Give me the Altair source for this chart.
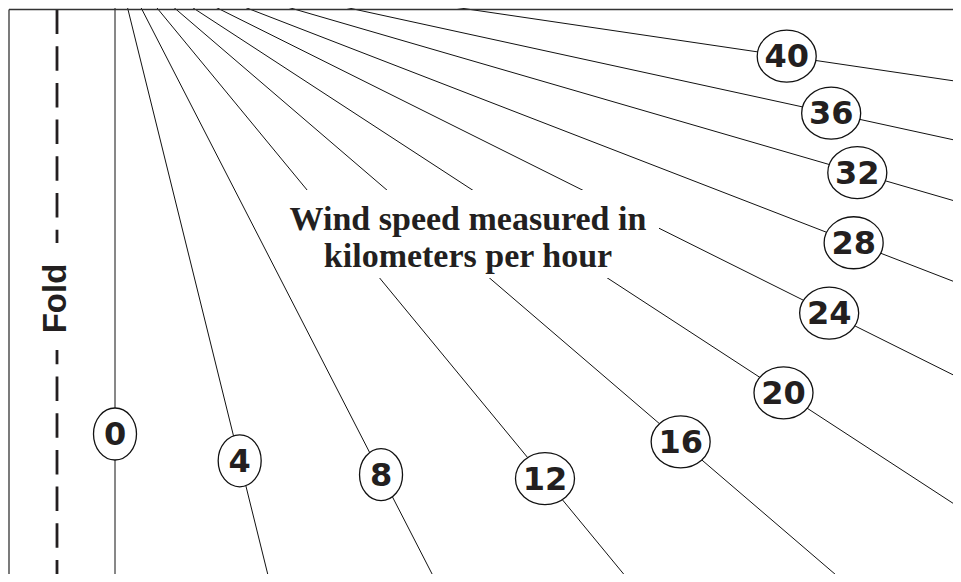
import altair as alt
import pandas as pd
import numpy as np

# ---- data ----
speeds = [0, 4, 8, 12, 16, 20, 24, 28, 32, 36, 40]
angles_deg = [0.0, 13.9, 27.2, 39.5, 49.4, 56.9, 63.5, 68.85, 73.8, 77.7, 81.6]  # from vertical
label_dist = [477, 519, 582, 676, 745, 798, 798, 792, 773, 733, 679]  # along each ray
caption_lines = ["Wind speed measured in", "kilometers per hour"]
fold_label = "Fold"

# ---- layout (page pixel space) ----
hub_x, hub_y = 115, -43
ray_len = 1700
caption_x = 468
caption_baselines = [230, 267]
caption_box = dict(x=285, x2=659, y=190, y2=278)
fold_x = 57
fold_text_x, fold_text_y = 65.7, 298.5
fold_box = dict(x=44, x2=70, y=243, y2=350)
frame_left, frame_top = 9, 9.5

th = np.radians(angles_deg)
rays = pd.DataFrame({
    "speed": speeds,
    "x": [hub_x] * len(speeds),
    "y": [hub_y] * len(speeds),
    "x2": hub_x + ray_len * np.sin(th),
    "y2": hub_y + ray_len * np.cos(th),
})
labels = pd.DataFrame({
    "speed": speeds,
    "label": [str(s) for s in speeds],
    "x": hub_x + np.array(label_dist) * np.sin(th),
    "y": hub_y + np.array(label_dist) * np.cos(th),
})
labels["wide"] = labels["speed"] >= 10

XS = alt.Scale(domain=[8, 953], nice=False, zero=False)
YS = alt.Scale(domain=[8, 574], nice=False, zero=False, reverse=True)


def X(f="x"):
    return alt.X(f"{f}:Q", scale=XS, axis=None)


def Y(f="y"):
    return alt.Y(f"{f}:Q", scale=YS, axis=None)


ink = "#231f20"

ray_layer = alt.Chart(rays).mark_rule(color="#111111", strokeWidth=1, clip=True).encode(
    x=X(), y=Y(), x2="x2:Q", y2="y2:Q"
)

cap_box = alt.Chart(pd.DataFrame([caption_box])).mark_rect(color="white").encode(
    x=X(), x2="x2:Q", y=Y(), y2="y2:Q"
)
cap_text = alt.Chart(pd.DataFrame({
    "t": caption_lines, "x": [caption_x] * 2, "y": caption_baselines
})).mark_text(font="Liberation Serif", fontSize=34, fontWeight="bold",
              align="center", baseline="alphabetic", color=ink).encode(
    x=X(), y=Y(), text="t:N"
)

fold_line = alt.Chart(pd.DataFrame({"x": [fold_x], "y": [frame_top], "y2": [700]})).mark_rule(
    color=ink, strokeWidth=2.8, strokeDash=[24.5, 12.2], clip=True
).encode(x=X(), y=Y(), y2="y2:Q")
fold_bg = alt.Chart(pd.DataFrame([fold_box])).mark_rect(color="white").encode(
    x=X(), x2="x2:Q", y=Y(), y2="y2:Q"
)
fold_txt = alt.Chart(pd.DataFrame({"t": [fold_label], "x": [fold_text_x], "y": [fold_text_y]})).mark_text(
    font="Liberation Sans", fontSize=33, fontWeight="bold", angle=270,
    align="center", baseline="alphabetic", color=ink
).encode(x=X(), y=Y(), text="t:N")

narrow_path = "M -0.827 0 A 0.827 1 0 1 1 0.827 0 A 0.827 1 0 1 1 -0.827 0 Z"
wide_path = "M -1.135 0 A 1.135 1 0 1 1 1.135 0 A 1.135 1 0 1 1 -1.135 0 Z"

ell_narrow = alt.Chart(labels).transform_filter("!datum.wide").mark_point(
    shape=narrow_path, size=2704, filled=True, fill="white", stroke="#111111",
    strokeWidth=1.3, opacity=1
).encode(x=X(), y=Y())
ell_wide = alt.Chart(labels).transform_filter("datum.wide").mark_point(
    shape=wide_path, size=2704, filled=True, fill="white", stroke="#111111",
    strokeWidth=1.3, opacity=1
).encode(x=X(), y=Y())
digits = alt.Chart(labels).mark_text(
    font="DejaVu Sans", fontSize=32, fontWeight="bold", align="center",
    baseline="middle", dy=1, color=ink
).encode(x=X(), y=Y(), text="label:N")

frame = alt.Chart(pd.DataFrame({
    "x": [frame_left, frame_left], "x2": [frame_left, 1200],
    "y": [frame_top, frame_top], "y2": [900, frame_top]
})).mark_rule(color="#333333", strokeWidth=1.3, clip=True).encode(
    x=X(), y=Y(), x2="x2:Q", y2="y2:Q"
)

chart = alt.layer(
    ray_layer, cap_box, cap_text, fold_line, fold_bg, fold_txt,
    ell_narrow, ell_wide, digits, frame
).properties(
    width=945, height=566, padding=0, background="white",
    autosize=alt.AutoSizeParams(type="none")
).configure_view(stroke=None)

chart.save("out.html", embed_options={"renderer": "svg", "actions": False})
